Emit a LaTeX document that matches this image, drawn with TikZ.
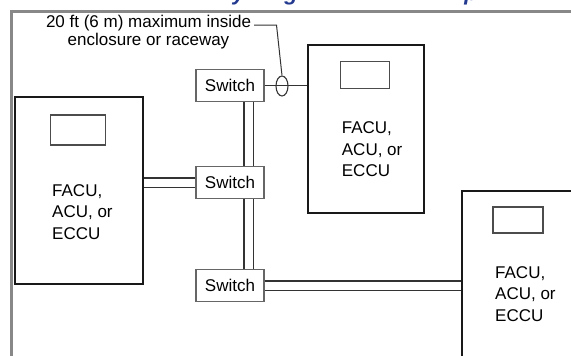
\documentclass[tikz,border=0pt]{standalone}
\usepackage{fontspec}
\setmainfont{Liberation Sans}
\usetikzlibrary{shapes.geometric}
\definecolor{framegray}{HTML}{888888}
\definecolor{titleblue}{HTML}{22398F}
\definecolor{wiregray}{HTML}{333333}
\definecolor{switchgray}{HTML}{666666}

\begin{document}
\begin{tikzpicture}[x=1pt,y=-1pt,font=\fontsize{17}{21.5}\selectfont,
  unitbox/.style={draw=black!90,line width=2.2pt,inner sep=0pt},
  display/.style={draw=black!70,line width=1.3pt,inner sep=0pt},
  switchbox/.style={draw=switchgray,line width=1.3pt,fill=white,
    minimum width=68pt,minimum height=32pt,inner sep=0pt},
  unitlabel/.style={align=left,anchor=north west,inner sep=0pt},
  cable/.style={draw=wiregray,line width=1.1pt},
  twin/.style={draw=wiregray,line width=1.1pt,double=white,double distance=8pt},
  titlebit/.style={anchor=base,inner sep=0pt,text=titleblue,
    font=\fontsize{22}{26}\selectfont\bfseries\itshape}]
  \clip (0,0) rectangle (571,356);

  % Cut-off title and frame
  \node[titlebit] (tity) at (239,1) {y};
  \node[titlebit] (titg) at (291,1) {g};
  \node[titlebit] (titp) at (471,1) {p};
  \draw[framegray,line width=3pt] (11.7,362)--(11.7,11.3)--(577,11.3);

  % Control units
  \node[unitbox,minimum width=128pt,minimum height=187pt] (unitA) at (79,190.5) {};
  \node[display,minimum width=55pt,minimum height=30pt] (dispA) at (78.3,130) {};
  \node[unitlabel] (textA) at (52,184) {FACU,\\ACU, or\\ECCU};

  \node[unitbox,minimum width=116pt,minimum height=168pt] (unitB) at (366,129) {};
  \node[display,minimum width=49pt,minimum height=27pt] (dispB) at (365.3,75) {};
  \node[unitlabel] (textB) at (341.7,121.7) {FACU,\\ACU, or\\ECCU};

  \node[unitbox,minimum width=178pt,minimum height=229pt] (unitC) at (550.7,305.2) {};
  \node[display,minimum width=50pt,minimum height=26pt] (dispC) at (518,220) {};
  \node[unitlabel] (textC) at (495,266) {FACU,\\ACU, or\\ECCU};

  % Switches
  \node[switchbox] (sw1) at (230,85.5) {Switch};
  \node[switchbox] (sw2) at (230,182.5) {Switch};
  \node[switchbox] (sw3) at (230,285.5) {Switch};

  % Wiring
  \draw[cable] (sw1.east) -- (sw1 -| unitB.west);
  \draw[twin] ([xshift=18.5pt]sw1.south) -- ([xshift=18.5pt]sw2.north);
  \draw[twin] ([xshift=18.5pt]sw2.south) -- ([xshift=18.5pt]sw3.north);
  \draw[twin] (sw2 -| unitA.east) -- (sw2.west);
  \draw[twin] (sw3.east) -- (sw3 -| unitC.west);

  % Length note
  \node[draw=wiregray,line width=1.1pt,ellipse,minimum width=12pt,minimum height=20pt,
    inner sep=0pt] (loop) at (282,86) {};
  \node[align=center,anchor=north,inner sep=0pt,font=\fontsize{17}{17.7}\selectfont]
    (note) at (148.5,15) {20 ft (6 m) maximum inside\\enclosure or raceway};
  \coordinate (tag) at (254,25);
  \coordinate (bend) at (276.5,25);
  \draw[wiregray,line width=1pt] (tag) -- (bend) -- (loop.north);
\end{tikzpicture}
\end{document}
